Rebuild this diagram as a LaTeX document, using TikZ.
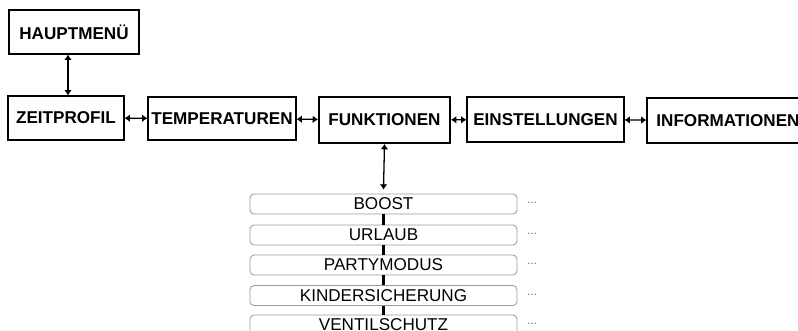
\documentclass[tikz,border=0pt]{standalone}
\usepackage{fontspec}
\setmainfont{Liberation Sans}
\usetikzlibrary{arrows.meta}
\begin{document}
\begin{tikzpicture}[x=0.03cm, y=-0.03cm,
    menubox/.style={draw, line width=1pt, minimum height=44*0.03cm, inner sep=0pt,
      font=\fontsize{14.6}{16}\selectfont\bfseries},
    itembox/.style={draw=black!40, line width=0.7pt, rounded corners=3.5pt,
      minimum width=267*0.03cm, minimum height=20*0.03cm, inner sep=0pt,
      font=\fontsize{14.6}{16}\selectfont},
    dots/.style={text=black!55, font=\normalsize, inner sep=0pt},
    arr/.style={{Latex[length=4.5pt,width=6.5pt]}-{Latex[length=4.5pt,width=6.5pt]}, line width=1.1pt},
    link/.style={line width=2.2pt}]
  \useasboundingbox (0,0) rectangle (798,331);
  \clip (0,0) rectangle (798,331);
  % Main menu row
  \node[menubox, minimum width=130*0.03cm] (haupt) at (74,32) {HAUPTMENÜ};
  \node[menubox, minimum width=116*0.03cm] (zeit) at (66,118) {ZEITPROFIL};
  \node[menubox, minimum width=148*0.03cm, minimum height=43*0.03cm] (temp) at (222,118.5) {TEMPERATUREN};
  \node[menubox, minimum width=131*0.03cm, minimum height=46*0.03cm, line width=1.7pt] (funk) at (384.5,120) {FUNKTIONEN};
  \node[menubox, minimum width=157*0.03cm, minimum height=45*0.03cm] (einst) at (545.5,119.5) {EINSTELLUNGEN};
  \node[menubox, minimum width=162*0.03cm, minimum height=45*0.03cm] (info) at (728,120.5) {INFORMATIONEN};
  % Arrows between menus
  \draw[arr] (haupt.south -| 68,0) -- (zeit.north -| 68,0);
  \draw[arr] (zeit) -- (temp);
  \draw[arr] (temp) -- (funk);
  \draw[arr] (funk) -- (einst);
  \draw[arr] (einst) -- (info);
  % Submenu of FUNKTIONEN
  \node[itembox] (boost) at (383.5,204) {BOOST};
  \node[itembox] (urlaub) at (383.5,235) {URLAUB};
  \node[itembox] (party) at (383.5,265) {PARTYMODUS};
  \node[itembox] (kinder) at (383.5,295.5) {KINDERSICHERUNG};
  \node[itembox] (ventil) at (383.5,325) {VENTILSCHUTZ};
  \draw[arr] (funk.south) -- ([yshift=4*0.03cm]boost.north);
  \draw[link] (boost) -- (urlaub);
  \draw[link] (urlaub) -- (party);
  \draw[link] (party) -- (kinder);
  \draw[link] (kinder) -- (ventil);
  % More entries
  \node[dots] (d1) at (532,203) {...};
  \node[dots] (d2) at (532,234) {...};
  \node[dots] (d3) at (532,264) {...};
  \node[dots] (d4) at (532,294.5) {...};
  \node[dots] (d5) at (532,324) {...};
\end{tikzpicture}
\end{document}
